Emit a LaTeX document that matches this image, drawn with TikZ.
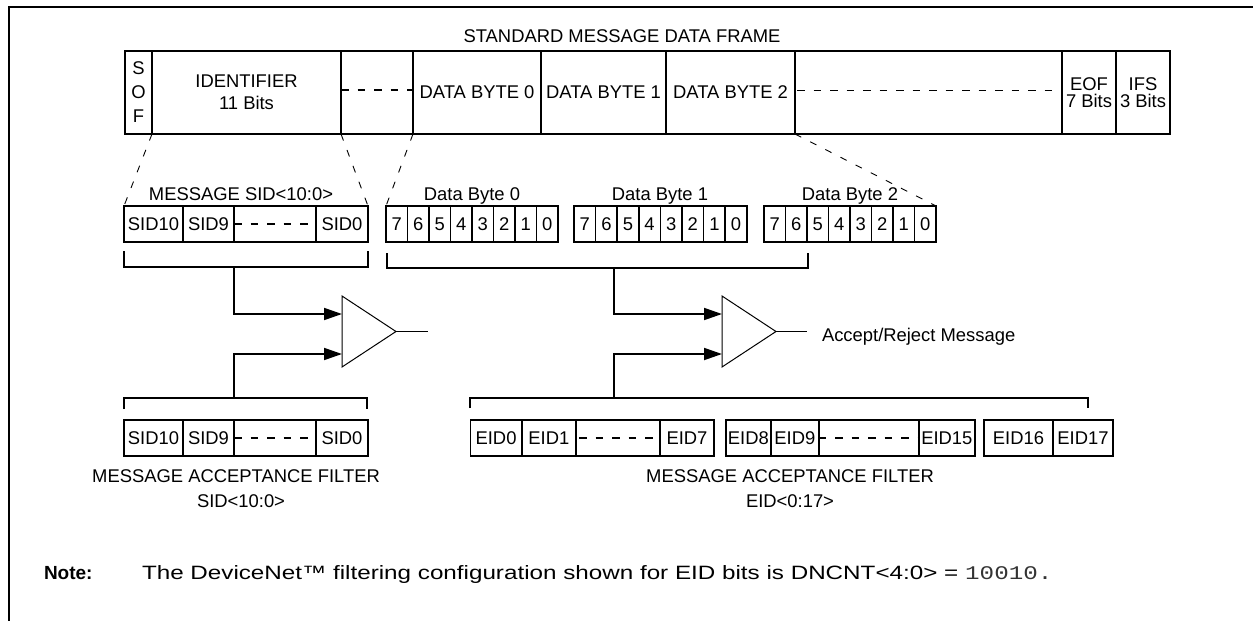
\documentclass[tikz,border=0pt]{standalone}
\usepackage{fontspec}
\setmainfont{Liberation Sans}
\setmonofont{Liberation Mono}
\usetikzlibrary{arrows.meta}
\begin{document}
\begin{tikzpicture}[x=1pt,y=-1pt,
  font=\fontsize{18.4}{22}\selectfont,
  cell/.style={draw, line width=1.7pt, inner sep=0pt, outer sep=0pt, anchor=north west},
  lbl/.style={inner sep=0pt, outer sep=0pt},
  wire/.style={line width=1.8pt},
  gapdash/.style={line width=1.4pt, dash pattern=on 7.5pt off 9pt},
  fanout/.style={line width=0.9pt, dash pattern=on 7pt off 10pt},
  cmp/.style={inner sep=0pt, outer sep=0pt, minimum width=54pt, minimum height=71pt, anchor=north west},
  tip/.style={-{Triangle[length=18pt,width=12pt]}}]
\useasboundingbox (0,0) rectangle (1253,621);

% outer frame
\draw[line width=2pt] (9,621) -- (9,7) -- (1253,7);

% standard message data frame
\node[lbl, anchor=base] (title) at (622,42) {STANDARD MESSAGE DATA FRAME};
\node[cell, minimum width=27pt, minimum height=83pt, align=center,
      font=\fontsize{18.4}{24}\selectfont] (sof) at (125,51) {S\\O\\F};
\node[cell, minimum width=189pt, minimum height=83pt, align=center] (ident) at (152,51) {IDENTIFIER\\11 Bits};
\node[cell, minimum width=72pt, minimum height=83pt] (gapA) at (341,51) {};
\node[cell, minimum width=128pt, minimum height=83pt] (dbyte0) at (413,51) {DATA BYTE 0};
\node[cell, minimum width=125pt, minimum height=83pt] (dbyte1) at (541,51) {DATA BYTE 1};
\node[cell, minimum width=129pt, minimum height=83pt] (dbyte2) at (666,51) {DATA BYTE 2};
\node[cell, minimum width=267pt, minimum height=83pt] (gapB) at (795,51) {};
\node[cell, minimum width=54pt, minimum height=83pt, align=center,
      font=\fontsize{18.4}{17}\selectfont] (eof) at (1062,51) {EOF\\7 Bits};
\node[cell, minimum width=54pt, minimum height=83pt, align=center,
      font=\fontsize{18.4}{17}\selectfont] (ifs) at (1116,51) {IFS\\3 Bits};
\draw[gapdash] ([yshift=2.5pt]gapA.west) -- ([yshift=2.5pt]gapA.east);
\draw[gapdash] ([yshift=2pt,xshift=2pt]gapB.west) -- ([yshift=2pt,xshift=-6pt]gapB.east);

% message SID field
\node[lbl, anchor=base] (sidlbl) at (241,200) {MESSAGE SID<10:0>};
\node[cell, minimum width=59pt, minimum height=36pt] (sidA) at (124,206) {SID10};
\node[cell, minimum width=51pt, minimum height=36pt] (sidB) at (183,206) {SID9};
\node[cell, minimum width=82pt, minimum height=36pt] (sidC) at (234,206) {};
\node[cell, minimum width=52pt, minimum height=36pt] (sidD) at (316,206) {SID0};
\draw[gapdash] (sidC.west) -- (sidC.east);

% data bytes, bit by bit
\node[lbl, anchor=base] (dlbl0) at (472,200) {Data Byte 0};
\node[lbl, anchor=base] (dlbl1) at (660,200) {Data Byte 1};
\node[lbl, anchor=base] (dlbl2) at (850,200) {Data Byte 2};
\foreach \b [count=\i from 0] in {7,6,5,4,3,2,1,0} {
  \node[cell, minimum width=21.5pt, minimum height=36pt] (da\b) at (386+\i*21.5,206) {\b};
  \node[cell, minimum width=21.6pt, minimum height=36pt] (db\b) at (574+\i*21.6,206) {\b};
  \node[cell, minimum width=21.5pt, minimum height=36pt] (dc\b) at (764+\i*21.5,206) {\b};
}

% fan-out from the frame to the fields
\draw[fanout] (sof.south east) -- (sidA.north west);
\draw[fanout] (gapA.south west) -- (sidD.north east);
\draw[fanout] (dbyte0.south west) -- (da7.north west);
\draw[fanout] (gapB.south west) -- (dc0.north east);

% comparators
\node[cmp] (cmpA) at (342,296) {};
\node[cmp] (cmpB) at (722,296) {};
\draw[line width=1pt] (cmpA.north west) -- (cmpA.east) -- (cmpA.south west) -- cycle;
\draw[line width=1pt] (cmpB.north west) -- (cmpB.east) -- (cmpB.south west) -- cycle;
\coordinate (inA1) at (342,314);
\coordinate (inA2) at (342,354);
\coordinate (inB1) at (722,314);
\coordinate (inB2) at (722,354);
\coordinate (outA) at (428,331.5);
\coordinate (outB) at (807,331.5);
\draw[wire] (cmpA.east) -- (outA);
\draw[wire] (cmpB.east) -- (outB);
\node[lbl, anchor=base west] (accept) at (822,341) {Accept/Reject Message};

% upper brackets and their stems
\coordinate (sT) at (234,267);
\coordinate (dT) at (614,268);
\draw[wire] (124,251) -- (124,267) -- (368,267) -- (368,251);
\draw[wire] (387,253) -- (387,268) -- (808,268) -- (808,253);
\draw[wire, tip] (sT) |- (inA1);
\draw[wire, tip] (dT) |- (inB1);

% lower brackets and their stems
\coordinate (sB) at (234,398);
\coordinate (eB) at (614,398);
\draw[wire] (124,409) -- (124,398) -- (367,398) -- (367,409);
\draw[wire] (470,408) -- (470,398) -- (1088,398) -- (1088,408);
\draw[wire, tip] (sB) |- (inA2);
\draw[wire, tip] (eB) |- (inB2);

% SID acceptance filter
\node[cell, minimum width=59pt, minimum height=36pt] (fA) at (124,420) {SID10};
\node[cell, minimum width=51pt, minimum height=36pt] (fB) at (183,420) {SID9};
\node[cell, minimum width=82pt, minimum height=36pt] (fC) at (234,420) {};
\node[cell, minimum width=52pt, minimum height=36pt] (fD) at (316,420) {SID0};
\draw[gapdash] (fC.west) -- (fC.east);
\node[lbl, anchor=base] (sfl1) at (236,482) {MESSAGE ACCEPTANCE FILTER};
\node[lbl, anchor=base] (sfl2) at (241,507) {SID<10:0>};

% EID acceptance filter
\node[cell, minimum width=51.3pt, minimum height=36pt] (e0) at (470.4,420) {EID0};
\node[cell, minimum width=54.3pt, minimum height=36pt] (e1) at (521.7,420) {EID1};
\node[cell, minimum width=84pt, minimum height=36pt] (e2) at (576,420) {};
\node[cell, minimum width=54pt, minimum height=36pt] (e7) at (660,420) {EID7};
\node[cell, minimum width=45.3pt, minimum height=36pt] (e8) at (725.7,420) {EID8};
\node[cell, minimum width=47.7pt, minimum height=36pt] (e9) at (771,420) {EID9};
\node[cell, minimum width=100pt, minimum height=36pt] (e10) at (818.7,420) {};
\node[cell, minimum width=56.3pt, minimum height=36pt] (e15) at (918.7,420) {EID15};
\node[cell, minimum width=69pt, minimum height=36pt] (e16) at (984,420) {EID16};
\node[cell, minimum width=60pt, minimum height=36pt] (e17) at (1053,420) {EID17};
\draw[gapdash] ([xshift=3pt]e2.west) -- ([xshift=-3pt]e2.east);
\draw[gapdash] (e10.west) -- (e10.east);
\node[lbl, anchor=base] (efl1) at (790,482) {MESSAGE ACCEPTANCE FILTER};
\node[lbl, anchor=base] (efl2) at (790,507) {EID<0:17>};

% note (wide-set sentence, value in typewriter)
\node[lbl, anchor=base west, font=\fontsize{19}{22}\selectfont\bfseries] (note) at (44,579) {Note:};
\node[lbl, anchor=base west, font=\fontsize{19.3}{22}\selectfont] (notetxt) at (142,579)
  {\scalebox{1.255}[1]{The DeviceNet™ filtering configuration shown for EID bits is DNCNT<4:0> = {\ttfamily\color{black!80}10010.}}};
\end{tikzpicture}
\end{document}
